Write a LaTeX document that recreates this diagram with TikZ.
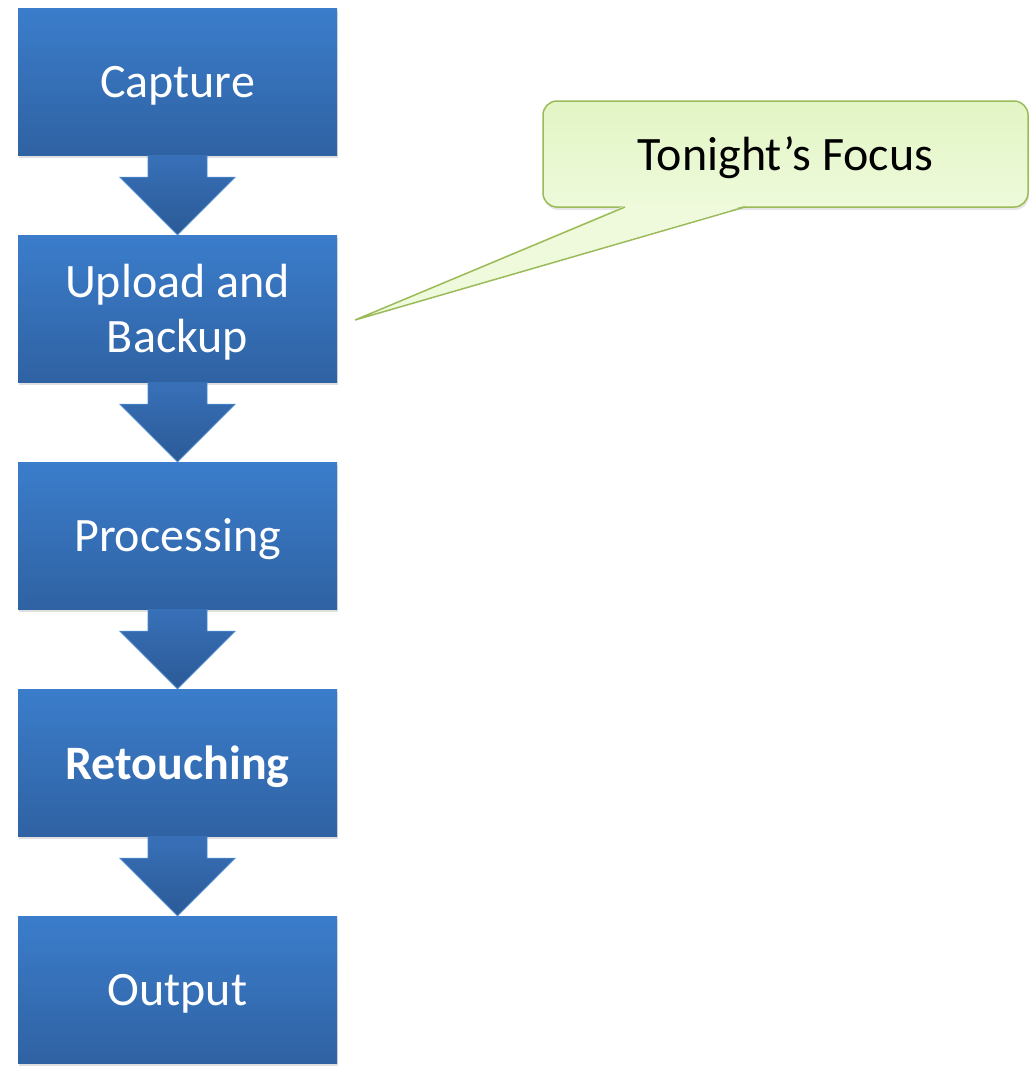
\documentclass[tikz,border=0pt]{standalone}
\usepackage{fontspec}
\setmainfont{Carlito}
\usetikzlibrary{calc,shadows}
\definecolor{boxtop}{HTML}{3B7DCB}
\definecolor{boxbot}{HTML}{2F62A3}
\definecolor{arrtop}{HTML}{3870B8}
\definecolor{arrbot}{HTML}{2B5A96}
\definecolor{arredge}{HTML}{4A86CC}
\definecolor{calltop}{HTML}{E2F5C4}
\definecolor{callbot}{HTML}{EEFADB}
\definecolor{calledge}{HTML}{9BBB59}
\tikzset{
  stepbox/.style={rectangle, minimum width=319pt, minimum height=147pt, inner sep=0pt,
    top color=boxtop, bottom color=boxbot, draw=none,
    drop shadow={shadow xshift=1pt, shadow yshift=-3pt, opacity=0.25}},
  steptext/.style={text=white, align=center, font=\fontsize{48}{55}\selectfont, yshift=-4pt},
  flowarrow/.style={top color=arrtop, bottom color=arrbot, draw=arredge, line width=0.8pt, line join=miter},
  callbox/.style={rectangle, rounded corners=14pt, minimum width=485pt, minimum height=106pt,
    top color=calltop, bottom color=callbot, draw=calledge, line width=1.5pt,
    drop shadow={shadow xshift=1pt, shadow yshift=-3pt, opacity=0.2}},
  calltext/.style={font=\fontsize{48}{55}\selectfont, text=black, yshift=-4pt},
}
\begin{document}
\begin{tikzpicture}[x=1pt,y=-1pt]
\useasboundingbox (0,0) rectangle (1030,1066);
\node[stepbox] (b1) at (177.5,81.5) {};
\node[stepbox] (b2) at (177.5,308.5) {};
\node[stepbox] (b3) at (177.5,535.5) {};
\node[stepbox] (b4) at (177.5,762.5) {};
\node[stepbox] (b5) at (177.5,989.5) {};
\node[steptext] (t1) at (b1) {Capture};
\node[steptext] (t2) at (b2) {Upload and\\Backup};
\node[steptext] (t3) at (b3) {Processing};
\node[steptext] (t4) at (b4) {\bfseries Retouching};
\node[steptext] (t5) at (b5) {Output};
\foreach \a/\b in {b1/b2,b2/b3,b3/b4,b4/b5}{
  \path[flowarrow] ($(\a.south)+(-29.5,0)$) -- ($(\a.south)+(-29.5,22)$) -- ($(\a.south)+(-57.5,22)$)
     -- (\b.north) -- ($(\a.south)+(57.5,22)$) -- ($(\a.south)+(29.5,22)$) -- ($(\a.south)+(29.5,0)$);
}
% callout
\node[callbox] (call) at (785.5,154) {};
\node[calltext] (ctext) at (call) {Tonight’s Focus};
\coordinate (tip) at (355,320);
\fill[callbot] (625,205.5) -- (tip) -- (745,205.5) -- cycle;
\draw[calledge, line width=1.5pt, line join=miter] (625,207) -- (tip) -- (745,207);
\end{tikzpicture}
\end{document}
